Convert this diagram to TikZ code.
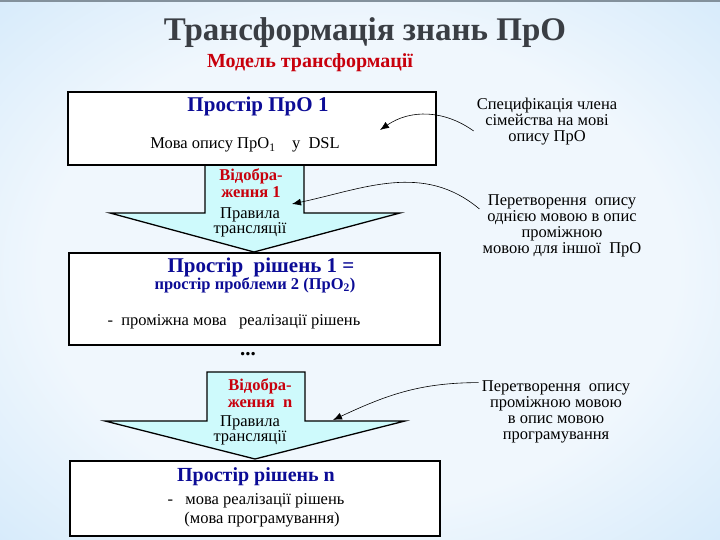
\documentclass[tikz,border=0pt]{standalone}
\usepackage{fontspec}
\setmainfont{Liberation Serif}
\usepackage{tikz}
\usetikzlibrary{arrows.meta,positioning,calc}
\definecolor{bgblue}{RGB}{140,196,240}
\definecolor{bgmid}{RGB}{188,222,248}
\definecolor{bgwhite}{RGB}{240,247,253}
\definecolor{hdrblue}{RGB}{12,12,150}
\definecolor{labred}{RGB}{200,0,12}
\definecolor{titlegray}{RGB}{58,62,68}
\definecolor{arrcyan}{RGB}{206,250,252}
\pgfdeclareradialshading{bgshade}{\pgfpoint{0bp}{0bp}}{color(0bp)=(bgwhite);color(22bp)=(bgwhite);color(50bp)=(bgmid);color(72bp)=(bgblue)}
\tikzset{
  boxA/.style={draw=black,line width=1.6pt,fill=white,inner sep=0pt},
  blockarr/.style={draw=black,line width=1.3pt,fill=arrcyan,line join=miter},
  hdr/.style={font=\bfseries\fontsize{21}{23}\selectfont,text=hdrblue,align=center,inner sep=0pt},
  txt/.style={font=\fontsize{16.5}{18}\selectfont,inner sep=0pt},
  arrlab/.style={font=\bfseries\fontsize{16.5}{17}\selectfont,text=labred,align=center,inner sep=0pt},
  arrtxt/.style={font=\fontsize{16.5}{15}\selectfont,align=center,inner sep=0pt},
  notetxt/.style={font=\fontsize{16.5}{16}\selectfont,align=center,inner sep=3pt},
  conn/.style={-{Latex[length=9pt,width=7pt]},line width=0.6pt},
}
\begin{document}
\begin{tikzpicture}[x=1pt,y=1pt]
    \useasboundingbox (0,0) rectangle (720,540);
    \shade[shading=bgshade] (0,0) rectangle (720,540);
    \draw[gray!75!bgblue,line width=1.5pt] (0,539.2)--(720,539.2);
    % sarlavha
    \node[font=\bfseries\fontsize{33}{36}\selectfont,text=titlegray] (title) at (365,507) {Трансформація знань ПрО};
    \node[font=\bfseries\fontsize{20}{22}\selectfont,text=labred] (subtitle) at (310,477) {Модель трансформації};
    % blokovi strilky
    \draw[blockarr] (205,378)--(205,327)--(110,327)--(254,288)--(400,327)--(304,327)--(304,378);
    \draw[blockarr] (207,168)--(207,119)--(105,119)--(255,81)--(405,119)--(305,119)--(305,168)--cycle;
    \node[arrlab] (map1) at (251,357) {Відобра-\\ження 1};
    \node[arrtxt] (rule1) at (250,318) {Правила\\трансляції};
    \node[arrlab] (mapn) at (260,147) {Відобра-\\ження\ \ n};
    \node[arrtxt] (rulen) at (250,110) {Правила\\трансляції};
    % prostir 1
    \node[boxA,minimum width=368pt,minimum height=73pt] (b1) at (252,411.5) {};
    \node[hdr] (h1) at (258,434) {Простір ПрО 1};
    \node[txt] (t1) at (245,395) {Мова опису ПрО\textsubscript{1}\ \ \ \ у\ \ DSL};
    % prostir 2
    \node[boxA,minimum width=371pt,minimum height=92pt] (b2) at (254.5,241) {};
    \node[hdr] (h2) at (261,273) {Простір\ \ рішень 1 =};
    \node[hdr,font=\bfseries\fontsize{16.5}{18}\selectfont] (h2b) at (255,255) {простір проблеми 2 (ПрО\textsubscript{2})};
    \node[txt] (t2) at (234,218) {-\ \ проміжна мова\ \ \ реалізації рішень};
    \node[font=\bfseries\fontsize{21}{21}\selectfont] (dots) at (248,186) {...};
    % prostir n
    \node[boxA,minimum width=370pt,minimum height=75pt] (b3) at (255,41.5) {};
    \node[hdr,font=\bfseries\fontsize{20}{22}\selectfont] (h3) at (256,63) {Простір рішень n};
    \node[txt] (t3) at (256,39) {-\ \ \ мова реалізації рішень};
    \node[txt] (t3b) at (262,20) {(мова програмування)};
    % prymitky
    \node[notetxt] (n1) at (547,418) {Специфікація члена\\сімейства на мові\\опису ПрО};
    \node[notetxt] (n2) at (562,314) {Перетворення\ \ опису\\однією мовою в опис\\проміжною\\мовою для іншої\ \ ПрО};
    \node[notetxt] (n3) at (556,128) {Перетворення\ \ опису\\проміжною мовою\\в опис мовою\\програмування};
    \coordinate (e1) at (380,410);
    \coordinate (e2) at (292,336);
    \coordinate (e3) at (333,120);
    \draw[conn] ([yshift=-9pt]n1.west) to[bend right=35] (e1);
    \draw[conn] ([yshift=17pt]n2.west) to[out=140,in=12] (e2);
    \draw[conn] ([yshift=-5pt]n3.north west) to[out=180,in=25] (e3);
  \end{tikzpicture}
\end{document}
